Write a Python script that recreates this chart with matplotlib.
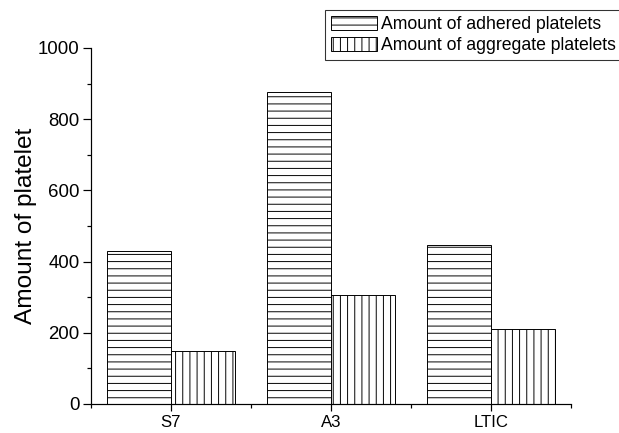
import numpy as np
import matplotlib
matplotlib.use("Agg")
import matplotlib.pyplot as plt

# platelet counts per sample
samples = ["S7", "A3", "LTIC"]
adhered = [430, 876, 448]
aggregate = [150, 307, 210]
series_labels = ["Amount of adhered platelets", "Amount of aggregate platelets"]

DPI = 86.4
W, H = 619, 433

plt.rcParams['font.family'] = ['Liberation Sans', 'DejaVu Sans']
plt.rcParams['hatch.linewidth'] = 0.8
plt.rcParams['hatch.color'] = 'black'

fig = plt.figure(figsize=(W / DPI, H / DPI), dpi=DPI)
ax = fig.add_axes([91 / W, 1 - 404 / H, 480 / W, 356 / H])

x = np.arange(len(samples))
width = 0.4
ax.bar(x - width / 2, adhered, width, facecolor='white', edgecolor='black',
       linewidth=0.8, hatch='--', label=series_labels[0])
ax.bar(x + width / 2, aggregate, width, facecolor='white', edgecolor='black',
       linewidth=0.8, hatch='||', label=series_labels[1])

ax.set_xlim(-0.5, len(samples) - 0.5)
ax.set_ylim(0, 1000)

for side in ['top', 'right']:
    ax.spines[side].set_visible(False)
for side in ['left', 'bottom']:
    ax.spines[side].set_linewidth(1.0)

ax.set_xticks(x)
ax.set_xticklabels(samples, fontsize=14)
ax.set_xticks(np.arange(-0.5, len(samples), 1.0), minor=True)
ax.set_yticks(np.arange(0, 1001, 200))
ax.set_yticks(np.arange(100, 1000, 200), minor=True)
ax.tick_params(axis='y', which='major', labelsize=15.5, length=7, width=1.0,
               direction='out', pad=2.5)
ax.tick_params(axis='both', which='minor', length=3.5, width=1.0, direction='out')
ax.tick_params(axis='x', which='major', length=6, width=1.0, direction='out', pad=3)

ax.set_ylabel("Amount of platelet", fontsize=20.3)
ax.yaxis.set_label_coords(-0.112, 0.5)

leg = fig.legend(loc='upper left', bbox_to_anchor=(325 / W, 1 - 10 / H),
                 fontsize=14.7, frameon=True, fancybox=False, shadow=False,
                 handlelength=2.6, handleheight=0.85, handletextpad=0.2,
                 labelspacing=0.2, borderpad=0.35, borderaxespad=0.0)
leg.get_frame().set_edgecolor('black')
leg.get_frame().set_linewidth(0.9)

fig.savefig("out.png", dpi=DPI)
